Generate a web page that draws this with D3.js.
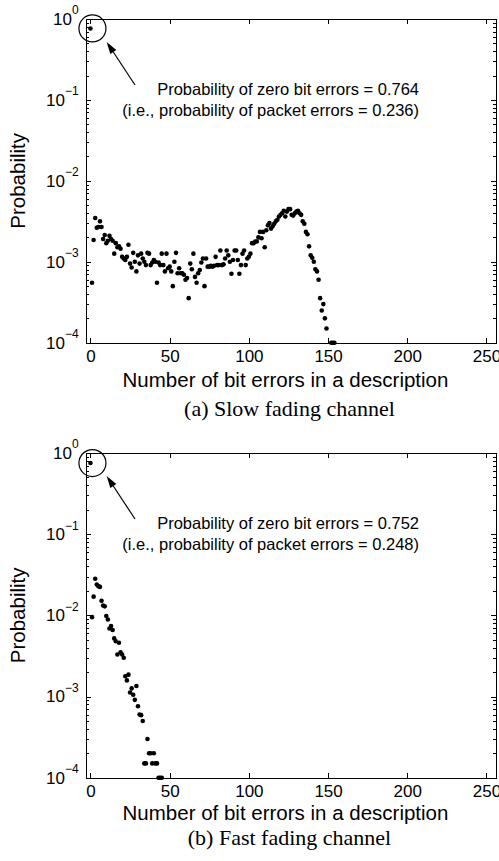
<!DOCTYPE html>
<html lang="en">
<head>
<meta charset="utf-8">
<title>Bit errors in a description</title>
<script src="https://cdn.jsdelivr.net/npm/d3@7"></script>
<style>
  body { margin: 0; background: #fff; }
  svg { display: block; }
  .axis path, .axis line { stroke: #000; shape-rendering: crispEdges; }
  .axis text { font-family: "Liberation Sans", Arial, sans-serif; fill: #000; }
  .note { font-family: "Liberation Sans", Arial, sans-serif; font-size: 16.5px; fill: #000; }
  .label { font-family: "Liberation Sans", Arial, sans-serif; font-size: 20.5px; fill: #000; }
  .caption { font-family: "Liberation Serif", "Times New Roman", serif; font-size: 22px; fill: #000; }
</style>
</head>
<body>
<script>
// probability of k bit errors, index = k (null = nothing plotted)
var slowProb = [
  0.764, 0.00055, 0.00186, 0.00347, 0.00263, 0.00269, 0.00316, 0.00269, 0.00191, 0.00214,
  0.00170, 0.00182, 0.00209, 0.00191, 0.00182, 0.00126, 0.00170, 0.00151, 0.00155, 0.00145,
  0.00115, 0.00110, 0.00105, 0.00115, 0.00162, 0.00095, 0.00085, 0.00129, 0.00100, 0.00076,
  0.00120, 0.00095, 0.00126, 0.00110, 0.00100, 0.00091, 0.00129, 0.00126, 0.00091, 0.00098,
  0.00105, 0.00100, 0.00055, 0.00098, 0.00091, 0.00126, 0.00091, 0.00076, 0.00126, 0.00083,
  0.00087, 0.00076, 0.00050, 0.00100, 0.00129, 0.00072, 0.00083, 0.00072, 0.00072, 0.00069,
  0.00060, 0.00063, 0.000355, 0.00095, 0.00081, 0.00126, 0.00065, 0.00055, 0.00072, 0.00079,
  0.00098, 0.00110, 0.00050, 0.00110, 0.00087, 0.00087, 0.00089, 0.00087, 0.00089, 0.00115,
  0.00091, 0.00091, 0.00138, 0.00091, 0.00093, 0.00110, 0.00138, 0.00120, 0.00100, 0.00071,
  0.00105, 0.00138, 0.00138, 0.00105, 0.00071, 0.00091, 0.00126, 0.00138, 0.00091, 0.00110,
  0.00115, 0.00126, 0.00170, 0.00170, 0.00178, 0.00178, 0.00200, 0.00234, 0.00195, 0.00234,
  0.00151, 0.00245, 0.00282, 0.00302, 0.00257, 0.00275, 0.00295, 0.00316, 0.00331, 0.00363,
  0.00380, 0.00398, 0.00427, 0.00363, 0.00417, 0.00447, 0.00447, 0.00380, 0.00372, 0.00398,
  0.00417, 0.00427, 0.00398, 0.00380, 0.00316, 0.00295, 0.00234, 0.00219, 0.00155, 0.00120,
  0.00112, 0.00100, 0.00081, 0.00076, 0.00060, 0.000355, 0.00025, 0.00030, 0.00020, 0.00015,
  null, null, 0.0001, 0.0001, 0.0001
];
var fastProb = [
  0.752, 0.0095, 0.0170, 0.0282, 0.0240, 0.0229, 0.0224, 0.0151, 0.0132, 0.0129,
  0.0098, 0.0089, 0.0069, 0.0074, 0.0066, 0.0052, 0.0048, 0.0033, 0.0046, 0.0035,
  0.0033, 0.0030, 0.00178, 0.00158, 0.00186, 0.00112, 0.00126, 0.00105, 0.00091, 0.00135,
  0.00076, 0.00060, 0.00059, 0.00050, 0.00015, 0.00015, 0.00030, 0.00020, 0.00020, 0.00015,
  0.00020, 0.00015, 0.00015, 0.0001, 0.0001, 0.0001
];
var slowNote = ["Probability of zero bit errors = 0.764", "(i.e., probability of packet errors = 0.236)"];
var fastNote = ["Probability of zero bit errors = 0.752", "(i.e., probability of packet errors = 0.248)"];
var captions = ["(a) Slow fading channel", "(b) Fast fading channel"];
var xTicks = [0, 50, 100, 150, 200, 250];
var yDecades = [1e-4, 1e-3, 1e-2, 1e-1, 1];
var yExponents = ["\u22124", "\u22123", "\u22122", "\u22121", "0"];
var xLabel = "Number of bit errors in a description";
var yLabel = "Probability";

var w = 499, h = 861;
var left = 85.7, right = 496;

var svg = d3.select("body").append("svg")
  .attr("width", w)
  .attr("height", h);

var panels = [
  { prob: slowProb, note: slowNote, caption: captions[0], top: 19, bottom: 342.7, xlabelY: 386.5, captionY: 416 },
  { prob: fastProb, note: fastNote, caption: captions[1], top: 453, bottom: 777.7, xlabelY: 819.5, captionY: 844.5 }
];

panels.forEach(drawPanel);

function drawPanel(p) {
  var x = d3.scaleLinear().domain([-3, 256]).range([left, right]);
  var y = d3.scaleLog().domain([1e-4, 1]).range([p.bottom, p.top]);
  var g = svg.append("g");

  var minor = y.ticks().filter(function(v) {
    var l = Math.log10(v);
    return Math.abs(l - Math.round(l)) > 1e-6;
  });

  // minor ticks, left and right, pointing in
  g.append("g").attr("class", "axis")
    .attr("transform", "translate(" + left + ",0)")
    .call(d3.axisLeft(y).tickValues(minor).tickSize(-3).tickSizeOuter(0).tickFormat(""));
  g.append("g").attr("class", "axis")
    .attr("transform", "translate(" + right + ",0)")
    .call(d3.axisRight(y).tickValues(minor).tickSize(-3).tickSizeOuter(0).tickFormat(""));

  // major y ticks
  var yAxis = g.append("g").attr("class", "axis")
    .attr("transform", "translate(" + left + ",0)")
    .call(d3.axisLeft(y).tickValues(yDecades).tickSize(-5).tickSizeOuter(0).tickPadding(7))
    .attr("font-size", 17);
  yAxis.selectAll(".tick text").each(function(d, i) {
    var t = d3.select(this).text(null);
    t.append("tspan").text("10");
    t.append("tspan").attr("dy", -10.5).attr("font-size", 12).text(yExponents[i]);
  });
  g.append("g").attr("class", "axis")
    .attr("transform", "translate(" + right + ",0)")
    .call(d3.axisRight(y).tickValues(yDecades).tickSize(-5).tickSizeOuter(0).tickFormat(""));

  // x ticks, bottom and top
  g.append("g").attr("class", "axis")
    .attr("transform", "translate(0," + p.bottom + ")")
    .call(d3.axisBottom(x).tickValues(xTicks).tickSize(-5).tickSizeOuter(0).tickPadding(7.5))
    .attr("font-size", 17);
  g.append("g").attr("class", "axis")
    .attr("transform", "translate(0," + p.top + ")")
    .call(d3.axisTop(x).tickValues(xTicks).tickSize(-5).tickSizeOuter(0).tickFormat(""));

  // points
  var pts = p.prob.map(function(v, i) { return { bits: i, prob: v }; })
    .filter(function(d) { return d.prob !== null; });
  g.selectAll("circle.dot")
    .data(pts)
    .enter()
    .append("circle")
    .attr("class", "dot")
    .attr("cx", function(d) { return x(d.bits); })
    .attr("cy", function(d) { return y(d.prob); })
    .attr("r", 2.3)
    .attr("fill", "#000");

  // circle round the zero-error point, arrow and note
  var cx = x(0) + 2, cy = y(p.prob[0]);
  g.append("circle")
    .attr("cx", cx).attr("cy", cy).attr("r", 13.5)
    .attr("fill", "none").attr("stroke", "#000").attr("stroke-width", 1.2);

  var tail = [135, p.top + 66], tip = [106.7, p.top + 23];
  var dx = tip[0] - tail[0], dy = tip[1] - tail[1];
  var len = Math.sqrt(dx * dx + dy * dy), ux = dx / len, uy = dy / len;
  var hl = 12, hw = 3.6;
  var bx = tip[0] - ux * hl, by = tip[1] - uy * hl;
  g.append("line")
    .attr("x1", tail[0]).attr("y1", tail[1]).attr("x2", bx).attr("y2", by)
    .attr("stroke", "#000").attr("stroke-width", 1.2);
  g.append("path")
    .attr("d", "M" + tip[0] + "," + tip[1] +
      "L" + (bx - uy * hw) + "," + (by + ux * hw) +
      "L" + (bx + uy * hw) + "," + (by - ux * hw) + "Z")
    .attr("fill", "#000");

  g.selectAll("text.note")
    .data(p.note)
    .enter()
    .append("text")
    .attr("class", "note")
    .attr("x", 419)
    .attr("y", function(d, i) { return p.top + 76 + i * 21; })
    .attr("text-anchor", "end")
    .text(function(d) { return d; });

  // labels
  g.append("text")
    .attr("class", "label")
    .attr("x", 285.5).attr("y", p.xlabelY)
    .attr("text-anchor", "middle")
    .text(xLabel);
  g.append("text")
    .attr("class", "label")
    .attr("transform", "translate(25," + ((p.top + p.bottom) / 2) + ") rotate(-90)")
    .attr("text-anchor", "middle")
    .text(yLabel);
  g.append("text")
    .attr("class", "caption")
    .attr("x", 289.5).attr("y", p.captionY)
    .attr("text-anchor", "middle")
    .text(p.caption);
}
</script>
</body>
</html>
